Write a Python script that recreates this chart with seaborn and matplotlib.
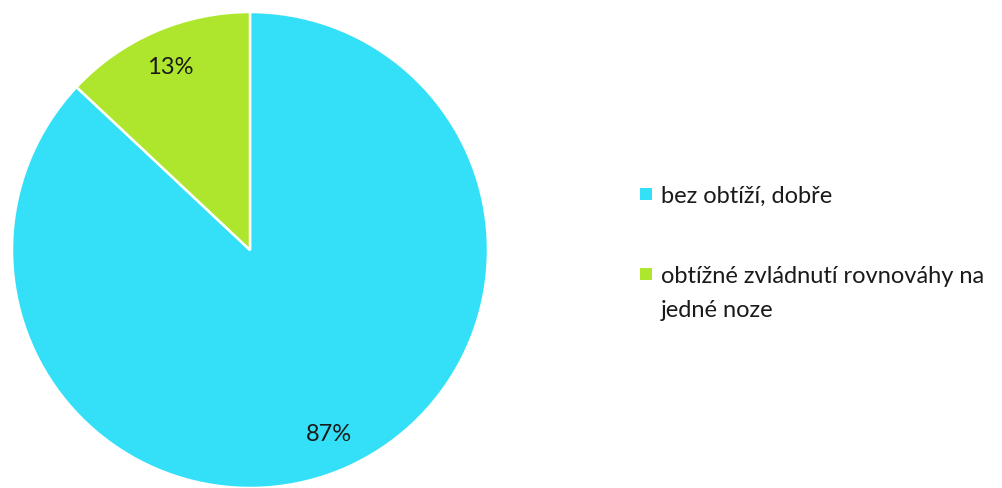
import matplotlib
matplotlib.use("Agg")
import matplotlib.pyplot as plt
import seaborn as sns
from matplotlib.patches import Rectangle

categories = ["bez obtíží, dobře", "obtížné zvládnutí rovnováhy na", "jedné noze"]
legend_labels = [["bez obtíží, dobře"], ["obtížné zvládnutí rovnováhy na", "jedné noze"]]
values = [87, 13]
colors = ["#33E0F7", "#AEE62D"]

sns.set_theme(style="white")
plt.rcParams["font.family"] = ["Lato", "DejaVu Sans"]

W, H = 1002, 489
fig = plt.figure(figsize=(W / 100, H / 100), dpi=100)
ax = fig.add_axes([12 / W, 0 / H, 476 / W, 476 / H])
wedges, texts, autotexts = ax.pie(
    values, colors=colors, startangle=90, counterclock=False,
    autopct=lambda p: f"{p:.0f}%", pctdistance=0.84,
    wedgeprops=dict(edgecolor="white", linewidth=1.8),
    textprops=dict(fontsize=17, color="#1a1a1a"),
)
ax.set_aspect("equal")
ax.set_xlim(-1.0, 1.0)
ax.set_ylim(-1.0, 1.0)

# manual legend
fs = 17
entries = [(189, [203]), (269, [283, 317])]
for (sq_top, baselines), color, lines in zip(entries, colors, legend_labels):
    fig.patches.append(Rectangle((640 / W, 1 - (sq_top + 12) / H), 12 / W, 12 / H,
                                 transform=fig.transFigure, facecolor=color,
                                 edgecolor="none"))
    for b, line in zip(baselines, lines):
        fig.text(661 / W, 1 - b / H, line, fontsize=fs, color="#1a1a1a",
                 ha="left", va="baseline")

fig.savefig("out.png", dpi=100)
